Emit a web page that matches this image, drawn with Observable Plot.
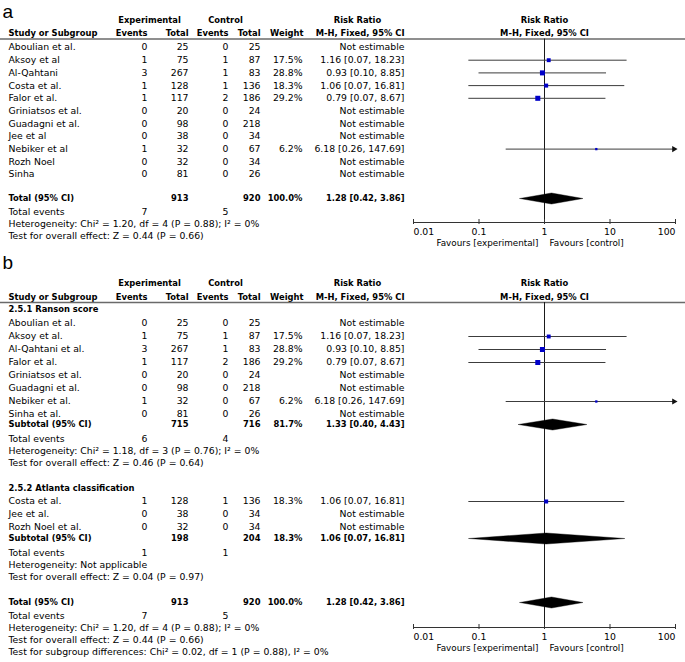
<!DOCTYPE html>
<html>
<head>
<meta charset="utf-8">
<script src="https://cdn.jsdelivr.net/npm/d3@7"></script>
<script src="https://cdn.jsdelivr.net/npm/@observablehq/plot@0.6"></script>
<style>
  html, body { margin: 0; padding: 0; background: #fff; }
  #chart { width: 685px; }
  #chart svg { display: block; }
</style>
</head>
<body>
<div id="chart"></div>
<script>
// ================= DATA =================
const panelLabels = ["a", "b"];
const axisTicks = [0.01, 0.1, 1, 10, 100];
const favourLabels = ["Favours [experimental]", "Favours [control]"];
const headerGroups = ["Experimental", "Control", "Risk Ratio"];
const headerCols = ["Study or Subgroup", "Events", "Total", "Events", "Total", "Weight", "M-H, Fixed, 95% CI"];
const plotHeader = ["Risk Ratio", "M-H, Fixed, 95% CI"];
const summaryLabels = ["Total (95% CI)", "Subtotal (95% CI)", "Total events"];

// Panel a: all studies
const studiesA  = ["Aboulian et al.", "Aksoy et al", "Al-Qahtani", "Costa et al.", "Falor et al.", "Griniatsos et al.", "Guadagni et al.", "Jee et al", "Nebiker et al", "Rozh Noel", "Sinha"];
const expEventsA = [0, 1, 3, 1, 1, 0, 0, 0, 1, 0, 0];
const expTotalA  = [25, 75, 267, 128, 117, 20, 98, 38, 32, 32, 81];
const ctlEventsA = [0, 1, 1, 1, 2, 0, 0, 0, 0, 0, 0];
const ctlTotalA  = [25, 87, 83, 136, 186, 24, 218, 34, 67, 34, 26];
const weightA = [null, 17.5, 28.8, 18.3, 29.2, null, null, null, 6.2, null, null];
const rrA     = [null, 1.16, 0.93, 1.06, 0.79, null, null, null, 6.18, null, null];
const rrLoA   = [null, 0.07, 0.10, 0.07, 0.07, null, null, null, 0.26, null, null];
const rrHiA   = [null, 18.23, 8.85, 16.81, 8.67, null, null, null, 147.69, null, null];

// Overall totals (shared by both panels)
const overallTotals = [913, 920];
const overallWeight = 100.0;
const overallRR = [1.28, 0.42, 3.86];
const overallEvents = [7, 5];
const overallStats = [
  "Heterogeneity: Chi² = 1.20, df = 4 (P = 0.88); I² = 0%",
  "Test for overall effect: Z = 0.44 (P = 0.66)"
];

// Panel b: subgroups
const subgroupNames = ["2.5.1 Ranson score", "2.5.2 Atlanta classification"];

const studiesB1  = ["Aboulian et al.", "Aksoy et al.", "Al-Qahtani et al.", "Falor et al.", "Griniatsos et al.", "Guadagni et al.", "Nebiker et al.", "Sinha et al."];
const expEventsB1 = [0, 1, 3, 1, 0, 0, 1, 0];
const expTotalB1  = [25, 75, 267, 117, 20, 98, 32, 81];
const ctlEventsB1 = [0, 1, 1, 2, 0, 0, 0, 0];
const ctlTotalB1  = [25, 87, 83, 186, 24, 218, 67, 26];
const weightB1 = [null, 17.5, 28.8, 29.2, null, null, 6.2, null];
const rrB1     = [null, 1.16, 0.93, 0.79, null, null, 6.18, null];
const rrLoB1   = [null, 0.07, 0.10, 0.07, null, null, 0.26, null];
const rrHiB1   = [null, 18.23, 8.85, 8.67, null, null, 147.69, null];
const subTotalsB1 = [715, 716];
const subWeightB1 = 81.7;
const subRRB1 = [1.33, 0.40, 4.43];
const subEventsB1 = [6, 4];
const subStatsB1 = [
  "Heterogeneity: Chi² = 1.18, df = 3 (P = 0.76); I² = 0%",
  "Test for overall effect: Z = 0.46 (P = 0.64)"
];

const studiesB2  = ["Costa et al.", "Jee et al.", "Rozh Noel et al."];
const expEventsB2 = [1, 0, 0];
const expTotalB2  = [128, 38, 32];
const ctlEventsB2 = [1, 0, 0];
const ctlTotalB2  = [136, 34, 34];
const weightB2 = [18.3, null, null];
const rrB2     = [1.06, null, null];
const rrLoB2   = [0.07, null, null];
const rrHiB2   = [16.81, null, null];
const subTotalsB2 = [198, 204];
const subWeightB2 = 18.3;
const subRRB2 = [1.06, 0.07, 16.81];
const subEventsB2 = [1, 1];
const subStatsB2 = [
  "Heterogeneity: Not applicable",
  "Test for overall effect: Z = 0.04 (P = 0.97)"
];
const subgroupDiffText = "Test for subgroup differences: Chi² = 0.02, df = 1 (P = 0.88), I² = 0%";

// ================= LAYOUT / STYLE =================
const W = 685;
const COL = {name: 8, ee: 147, et: 188, ce: 228, ct: 260, w: 302, rr: 404, expMid: 149, ctlMid: 225, rrMid: 357};
const FONT = "'DejaVu Sans', 'Lucida Grande', sans-serif";
const BOLDFONT = "'DejaVu Sans Condensed', 'DejaVu Sans', sans-serif";
const B = {fontWeight: "bold", fontFamily: BOLDFONT};
const SQUARE = "#0000c8", CI = "#3c3c3c";
const DIAMOND_H = 11;

const fmt2 = v => v.toFixed(2);
const fmtRR = d => d.rr == null ? "Not estimable" : `${fmt2(d.rr)} [${fmt2(d.lo)}, ${fmt2(d.hi)}]`;
const fmtW = d => d.w == null ? "" : d.w.toFixed(1) + "%";

function makeStudies(names, ee, et, ce, ct, w, rr, lo, hi) {
  return names.map((name, i) => ({name, ee: ee[i], et: et[i], ce: ce[i], ct: ct[i], w: w[i], rr: rr[i], lo: lo[i], hi: hi[i]}));
}
function makeSummary(label, totals, w, rrArr) {
  return {name: label, et: totals[0], ct: totals[1], w, rr: rrArr[0], lo: rrArr[1], hi: rrArr[2]};
}

// Text placed at a fixed column (pixels from the left edge of the frame)
function T(data, text, x, anchor, extra = {}) {
  return Plot.text(data, {y: "y", text, frameAnchor: "left", dx: x, textAnchor: anchor, ...extra});
}

function headerMarks(y1, y2, yr) {
  const top = [{y: y1, x: 1}], bot = [{y: y2, x: 1}];
  return [
    T(top, () => headerGroups[0], COL.expMid, "middle", B),
    T(top, () => headerGroups[1], COL.ctlMid, "middle", B),
    T(top, () => headerGroups[2], COL.rrMid, "middle", B),
    T(bot, () => headerCols[0], COL.name, "start", B),
    T(bot, () => headerCols[1], COL.ee, "end", B),
    T(bot, () => headerCols[2], COL.et, "end", B),
    T(bot, () => headerCols[3], COL.ce, "end", B),
    T(bot, () => headerCols[4], COL.ct, "end", B),
    T(bot, () => headerCols[5], COL.w + 1, "end", B),
    T(bot, () => headerCols[6], COL.rr, "end", B),
    Plot.text(top, {x: "x", y: "y", text: () => plotHeader[0], ...B}),
    Plot.text(bot, {x: "x", y: "y", text: () => plotHeader[1], ...B}),
    Plot.ruleY([yr], {stroke: "#6a6a6a", strokeWidth: 1.5})
  ];
}

function studyMarks(rows) {
  const est = rows.filter(d => d.rr != null);
  const arrows = est.filter(d => d.hi > axisTicks[axisTicks.length - 1]);
  return [
    T(rows, "name", COL.name, "start"),
    T(rows, "ee", COL.ee, "end"),
    T(rows, "et", COL.et, "end"),
    T(rows, "ce", COL.ce, "end"),
    T(rows, "ct", COL.ct, "end"),
    T(rows, fmtW, COL.w, "end"),
    T(rows, fmtRR, COL.rr, "end"),
    Plot.ruleY(est, {y: "y", x1: d => Math.max(d.lo, axisTicks[0]), x2: d => Math.min(d.hi, axisTicks[axisTicks.length - 1]), stroke: CI, strokeWidth: 1}),
    Plot.dot(arrows, {x: () => axisTicks[axisTicks.length - 1], y: "y", symbol: "triangle", rotate: 90, r: 2.3, fill: "#111", stroke: "none", dx: -1.5}),
    Plot.dot(est, {x: "rr", y: "y", r: "w", symbol: "square", fill: SQUARE, stroke: "none"})
  ];
}

function summaryMarks(rows) {
  const pts = rows.flatMap((d, i) => [
    {id: i, x: d.lo, y: d.y},
    {id: i, x: d.rr, y: d.y - DIAMOND_H / 2},
    {id: i, x: d.hi, y: d.y},
    {id: i, x: d.rr, y: d.y + DIAMOND_H / 2},
    {id: i, x: d.lo, y: d.y}
  ]);
  return [
    T(rows, "name", COL.name, "start", B),
    T(rows, "et", COL.et, "end", B),
    T(rows, "ct", COL.ct, "end", B),
    T(rows, fmtW, COL.w, "end", B),
    T(rows, fmtRR, COL.rr, "end", B),
    Plot.line(pts, {x: "x", y: "y", z: "id", fill: "#000", stroke: "#000", strokeWidth: 0.4, curve: "linear"})
  ];
}

function eventMarks(rows) {
  return [
    T(rows, "name", COL.name, "start"),
    T(rows, "ee", COL.ee, "end"),
    T(rows, "ce", COL.ce, "end")
  ];
}

function lineMarks(rows, extra = {}) {
  return [T(rows, "name", COL.name, "start", extra)];
}

function axisMarks(yTop, yAxis) {
  const n = axisTicks.length;
  return [
    Plot.ruleX([1], {y1: yTop, y2: yAxis, stroke: "#1a1a1a", strokeWidth: 1}),
    Plot.ruleY([yAxis], {x1: axisTicks[0], x2: axisTicks[n - 1], stroke: "#333", strokeWidth: 1}),
    Plot.ruleX(axisTicks, {y1: yAxis - 3, y2: yAxis + 2, stroke: "#333", strokeWidth: 1}),
    Plot.text(axisTicks.slice(0, 1), {x: d => d, y: yAxis + 9.5, text: d => String(d), textAnchor: "start"}),
    Plot.text(axisTicks.slice(1, n - 1), {x: d => d, y: yAxis + 9.5, text: d => String(d), textAnchor: "middle"}),
    Plot.text(axisTicks.slice(n - 1), {x: d => d, y: yAxis + 9.5, text: d => String(d), textAnchor: "end"}),
    Plot.text([{x: 1, y: yAxis + 21}], {x: "x", y: "y", text: () => favourLabels[0], textAnchor: "end", dx: -6, fontSize: 8.8}),
    Plot.text([{x: 1, y: yAxis + 21}], {x: "x", y: "y", text: () => favourLabels[1], textAnchor: "start", dx: 5, fontSize: 8.8})
  ];
}

function panelLabel(label, yBase) {
  return Plot.text([{y: yBase}], {y: "y", text: () => label, frameAnchor: "left", dx: 2, textAnchor: "start", lineAnchor: "bottom", fontSize: 19, fontFamily: "'Liberation Sans', Arial, sans-serif"});
}

function makePlot(H, marks) {
  return Plot.plot({
    width: W, height: H,
    marginLeft: 0, marginRight: 0, marginTop: 0, marginBottom: 0,
    x: {type: "log", domain: [axisTicks[0], axisTicks[axisTicks.length - 1]], range: [413, 675], axis: null},
    y: {type: "linear", domain: [0, H], range: [0, H], axis: null},
    r: {type: "sqrt", domain: [0, 29.2], range: [0, 2.85]},
    style: {fontFamily: FONT, fontSize: "9.3px", color: "#000", background: "#fff", overflow: "visible"},
    marks
  });
}

// ================= PANEL A =================
const HA = 250;
{
  const step = 12.7;
  const rows = makeStudies(studiesA, expEventsA, expTotalA, ctlEventsA, ctlTotalA, weightA, rrA, rrLoA, rrHiA);
  rows.forEach((d, i) => d.y = 47 + i * step);
  const yTot = rows[rows.length - 1].y + 24;
  const tot = [{...makeSummary(summaryLabels[0], overallTotals, overallWeight, overallRR), y: yTot}];
  const ev = [{name: summaryLabels[2], ee: overallEvents[0], ce: overallEvents[1], y: yTot + 14}];
  const st = overallStats.map((s, i) => ({name: s, y: yTot + 26 + 12 * i}));
  const yRule = 38.5;
  const plot = makePlot(HA, [
    panelLabel(panelLabels[0], 17.5),
    ...headerMarks(20, 32.5, yRule),
    ...axisMarks(yRule, yTot + 24),
    ...studyMarks(rows),
    ...summaryMarks(tot),
    ...eventMarks(ev),
    ...lineMarks(st)
  ]);
  document.getElementById("chart").append(plot);
}

// ================= PANEL B =================
const HB = 412;
{
  const step = 13;
  const yRule = 52;
  let y = 59;
  const titles = [{name: subgroupNames[0], y}];
  const rows1 = makeStudies(studiesB1, expEventsB1, expTotalB1, ctlEventsB1, ctlTotalB1, weightB1, rrB1, rrLoB1, rrHiB1);
  rows1.forEach((d, i) => d.y = y + 14 + i * step);
  y = rows1[rows1.length - 1].y + 10;
  const subs = [{...makeSummary(summaryLabels[1], subTotalsB1, subWeightB1, subRRB1), y}];
  const evs = [{name: summaryLabels[2], ee: subEventsB1[0], ce: subEventsB1[1], y: y + 15}];
  const stats = subStatsB1.map((s, i) => ({name: s, y: y + 27 + 12 * i}));
  y = stats[stats.length - 1].y + 25;
  titles.push({name: subgroupNames[1], y});
  const rows2 = makeStudies(studiesB2, expEventsB2, expTotalB2, ctlEventsB2, ctlTotalB2, weightB2, rrB2, rrLoB2, rrHiB2);
  rows2.forEach((d, i) => d.y = y + 13 + i * step);
  y = rows2[rows2.length - 1].y + 11;
  subs.push({...makeSummary(summaryLabels[1], subTotalsB2, subWeightB2, subRRB2), y});
  evs.push({name: summaryLabels[2], ee: subEventsB2[0], ce: subEventsB2[1], y: y + 15});
  subStatsB2.forEach((s, i) => stats.push({name: s, y: y + 27 + 12 * i}));
  y = stats[stats.length - 1].y + 25;
  const yTot = y;
  const tot = [{...makeSummary(summaryLabels[0], overallTotals, overallWeight, overallRR), y: yTot}];
  evs.push({name: summaryLabels[2], ee: overallEvents[0], ce: overallEvents[1], y: yTot + 14});
  [...overallStats, subgroupDiffText].forEach((s, i) => stats.push({name: s, y: yTot + 26 + 12 * i}));

  const plot = makePlot(HB, [
    panelLabel(panelLabels[1], 18),
    ...headerMarks(33, 46.5, yRule),
    ...axisMarks(yRule, yTot + 25),
    ...lineMarks(titles, B),
    ...studyMarks(rows1),
    ...studyMarks(rows2),
    ...summaryMarks(subs),
    ...summaryMarks(tot),
    ...eventMarks(evs),
    ...lineMarks(stats)
  ]);
  document.getElementById("chart").append(plot);
}
</script>
</body>
</html>
